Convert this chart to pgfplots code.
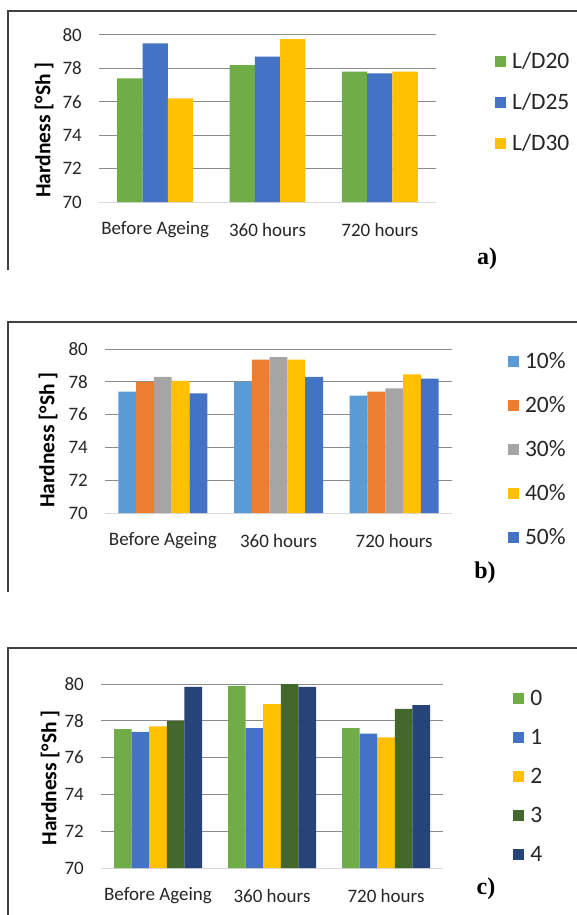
\documentclass[border=0pt]{standalone}
\usepackage{fontspec}
\setmainfont{Carlito}
\newfontfamily\panelfont{Liberation Serif}
\usepackage{pgfplots}
\pgfplotsset{compat=1.18}

\definecolor{cGreen}{HTML}{70AD47}
\definecolor{cBlue}{HTML}{4472C4}
\definecolor{cYellow}{HTML}{FFC000}
\definecolor{cLightBlue}{HTML}{5B9BD5}
\definecolor{cOrange}{HTML}{ED7D31}
\definecolor{cGray}{HTML}{A5A5A5}
\definecolor{cDarkGreen}{HTML}{43682B}
\definecolor{cNavy}{HTML}{264478}
\definecolor{gridgray}{HTML}{8C8C8C}
\definecolor{basegray}{HTML}{D9D9D9}
\definecolor{framegray}{HTML}{404040}

\pgfplotsset{
  hard/.style={
    scale only axis,
    anchor=north west,
    ybar=0pt,
    ymin=70, ymax=80,
    ytick={72,74,...,80},
    extra y ticks={70},
    extra y tick style={major grid style={draw=basegray, line width=1pt}},
    xmin=-0.5, xmax=2.5,
    xtick={0,1,2},
    xticklabels={Before Ageing, 360 hours, 720 hours},
    axis line style={draw=none},
    major tick length=0pt,
    ymajorgrids,
    major grid style={draw=gridgray, line width=1pt},
    tick label style={font=\fontsize{19}{20}\selectfont, text=black!85},
    /pgf/number format/assume math mode=true,
    yticklabel style={anchor=east, inner sep=0pt},
    yticklabel shift=17pt,
    xticklabel style={anchor=center, inner sep=0pt, yshift=-28pt},
    ylabel={\bfseries Hardness [°Sh ]},
    legend cell align=left,
    legend style={draw=none, fill=none, inner sep=0pt, column sep=6pt,
      font=\fontsize{23.5}{24}\selectfont, text=black!85,
      nodes={inner sep=0pt, text height=15pt, text depth=0pt}},
    legend image code/.code={\fill[##1] (0pt,-5.5pt) rectangle (11pt,5.5pt);},
  },
}
\tikzset{panel label/.style={font=\panelfont\bfseries\fontsize{24}{24}\selectfont}}

\begin{document}
\begin{tikzpicture}
\useasboundingbox (0pt,0pt) rectangle (577pt,-915pt);

% frames
\draw[framegray, line width=1.3pt] (8pt,-270pt) -- (8pt,-11pt) -- (580pt,-11pt);
\draw[framegray, line width=1.3pt] (8pt,-592pt) -- (8pt,-322pt) -- (580pt,-322pt);
\draw[framegray, line width=1.3pt] (8pt,-920pt) -- (8pt,-648pt) -- (580pt,-648pt);

% a)
\begin{axis}[hard,
  at={(99pt,-35pt)}, width=337pt, height=167pt,
  bar width=25.3pt,
  ylabel style={at={(axis description cs:-0.163,0.431)}, anchor=center,
    font=\fontsize{21.5}{22}\selectfont},
  legend style={at={(axis description cs:1.175,0.889)}, anchor=north west, row sep=26pt},
]
\addplot[fill=cGreen, draw=none] coordinates {(0,77.4) (1,78.2) (2,77.8)};
\addplot[fill=cBlue, draw=none] coordinates {(0,79.5) (1,78.7) (2,77.7)};
\addplot[fill=cYellow, draw=none] coordinates {(0,76.2) (1,79.75) (2,77.8)};
\legend{L/D20, L/D25, L/D30}
\end{axis}
\node[panel label] at (487pt,-259pt) {a)};

% b)
\begin{axis}[hard,
  at={(105pt,-349pt)}, width=347pt, height=164pt,
  bar width=17.8pt,
  ylabel style={at={(axis description cs:-0.164,0.445)}, anchor=center,
    font=\fontsize{21.5}{22}\selectfont},
  legend style={at={(axis description cs:1.161,0.973)}, anchor=north west, row sep=29pt},
]
\addplot[fill=cLightBlue, draw=none] coordinates {(0,77.4) (1,78.0) (2,77.15)};
\addplot[fill=cOrange, draw=none] coordinates {(0,78.0) (1,79.35) (2,77.4)};
\addplot[fill=cGray, draw=none] coordinates {(0,78.3) (1,79.5) (2,77.6)};
\addplot[fill=cYellow, draw=none] coordinates {(0,78.05) (1,79.35) (2,78.45)};
\addplot[fill=cBlue, draw=none] coordinates {(0,77.3) (1,78.3) (2,78.2)};
\legend{10\%, 20\%, 30\%, 40\%, 50\%}
\end{axis}
\node[panel label] at (485pt,-573pt) {b)};

% c)
\begin{axis}[hard,
  at={(101pt,-684pt)}, width=342pt, height=184pt,
  bar width=17.6pt,
  ylabel style={at={(axis description cs:-0.149,0.49)}, anchor=center,
    font=\fontsize{21.5}{22}\selectfont},
  legend style={at={(axis description cs:1.205,0.965)}, anchor=north west, row sep=24pt},
]
\addplot[fill=cGreen, draw=none] coordinates {(0,77.55) (1,79.9) (2,77.6)};
\addplot[fill=cBlue, draw=none] coordinates {(0,77.4) (1,77.6) (2,77.3)};
\addplot[fill=cYellow, draw=none] coordinates {(0,77.7) (1,78.9) (2,77.1)};
\addplot[fill=cDarkGreen, draw=none] coordinates {(0,78.0) (1,80.0) (2,78.65)};
\addplot[fill=cNavy, draw=none] coordinates {(0,79.85) (1,79.85) (2,78.85)};
\legend{0, 1, 2, 3, 4}
\end{axis}
\node[panel label] at (486pt,-889pt) {c)};
\end{tikzpicture}
\end{document}
